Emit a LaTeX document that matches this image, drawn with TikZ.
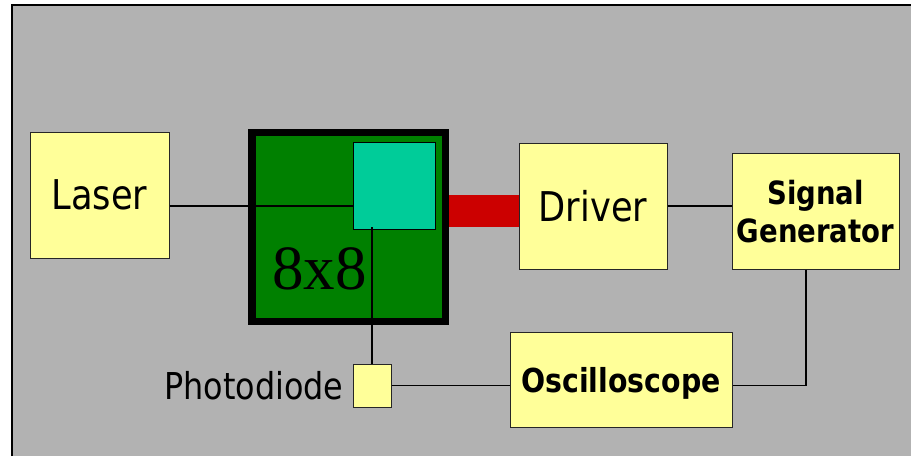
\documentclass[tikz,border=0pt]{standalone}
\usepackage{fontspec}
\setmainfont{DejaVu Sans}[FakeStretch=0.86]
\newfontfamily\timesfont{Liberation Serif}
\usetikzlibrary{positioning,calc}
\definecolor{panel}{RGB}{178,178,178}
\definecolor{pale}{RGB}{255,255,153}
\definecolor{board}{RGB}{0,128,0}
\definecolor{mirror}{RGB}{0,204,153}
\definecolor{link}{RGB}{204,0,0}
\tikzset{
  unit/.style={draw=black!85,line width=1pt,fill=pale,inner sep=0pt,text depth=0pt,align=center},
  big/.style={font=\fontsize{41}{49}\selectfont},
  heavy/.style={font=\fontsize{32}{38}\selectfont\bfseries},
  wire/.style={draw=black,line width=1.3pt},
}
\begin{document}
\begin{tikzpicture}[x=1pt,y=-1pt]
  \useasboundingbox (0,0) rectangle (911,456);
  % panel
  \fill[panel] (12,5) rectangle (911,456);
  \draw[line width=2pt] (12,456) -- (12,5) -- (911,5);
  % blocks
  \node[unit,big,minimum width=139,minimum height=126] (laser) at (99.5,195) {Laser};
  \node[draw=black,line width=7.5pt,fill=board,inner sep=0pt,minimum width=193.5,minimum height=189] (chip) at (348.75,227) {};
  \node[draw=black,line width=1pt,fill=mirror,inner sep=0pt,minimum width=82,minimum height=87] (mems) at (394,185.5) {};
  \node[font=\timesfont\fontsize{63}{70}\selectfont,anchor=base west,inner sep=0pt] (size) at (272,289) {8x8};
  \node[unit,big,minimum width=148,minimum height=126] (driver) at (593,206) {Driver};
  \node[unit,heavy,minimum width=167,minimum height=116] (siggen) at (815.5,211) {Signal\\Generator};
  \node[unit,font=\fontsize{33}{38}\selectfont\bfseries,minimum width=222,minimum height=95] (scope) at (621,379.5) {Oscilloscope};
  \node[unit,minimum width=38,minimum height=43] (pd) at (372,385.5) {};
  \node[font=\fontsize{37}{44}\selectfont,inner sep=0pt,text depth=0pt,left=9pt of pd] (pdlabel) {Photodiode};
  % connectors
  \coordinate (beam) at (mems.west |- 0,206);
  \draw[wire] (laser.east |- beam) -- (beam);
  \draw[wire] (pd.north) -- ([yshift=3pt]pd.north |- mems.south);
  \fill[link] (chip.east |- 0,195) rectangle (driver.west |- 0,227);
  \draw[wire] (driver.east) -- (driver.east -| siggen.west);
  \draw[wire] (pd.east) -- (pd -| scope.west);
  \draw[wire] ([xshift=-9.5pt]siggen.south) |- (pd -| scope.east);
\end{tikzpicture}
\end{document}
